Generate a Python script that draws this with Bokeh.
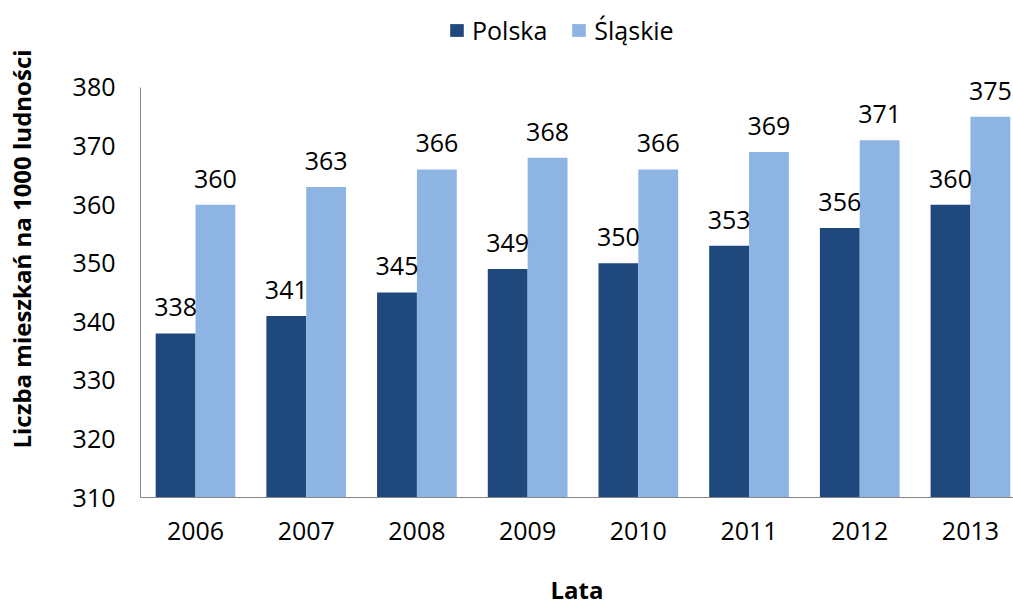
from bokeh.plotting import figure
from bokeh.models import ColumnDataSource, Range1d, FixedTicker, Legend, LegendItem
from bokeh.transform import dodge
from bokeh.core.properties import value
from bokeh.embed import file_html
from bokeh.resources import INLINE

years = ["2006", "2007", "2008", "2009", "2010", "2011", "2012", "2013"]
polska = [338, 341, 345, 349, 350, 353, 356, 360]
slaskie = [360, 363, 366, 368, 366, 369, 371, 375]
y_ticks = [310, 320, 330, 340, 350, 360, 370, 380]

FONT = "Open Sans"
DARK = "#1F497D"
LIGHT = "#8EB4E3"

idx = list(range(len(years)))
src = ColumnDataSource(dict(
    x=idx, polska=polska, slaskie=slaskie,
    pl_lab=[str(v) for v in polska], sl_lab=[str(v) for v in slaskie],
))

# frame spans the full height so the legend can sit inside it; the y axis
# line itself is bounded to 310..380
p = figure(width=1013, height=608, output_backend="svg", toolbar_location=None,
           x_range=Range1d(-0.497, 7.389), y_range=Range1d(310, 394.85),
           min_border_left=140, min_border_right=0, min_border_top=0,
           min_border_bottom=111)
p.outline_line_color = None
p.xgrid.grid_line_color = None
p.ygrid.grid_line_color = None

w = 0.36
r1 = p.vbar(x=dodge("x", -w / 2, range=p.x_range), top="polska", bottom=310,
            width=w, source=src, fill_color=DARK, line_color=None)
r2 = p.vbar(x=dodge("x", w / 2, range=p.x_range), top="slaskie", bottom=310,
            width=w, source=src, fill_color=LIGHT, line_color=None)

for col, lab, off in (("polska", "pl_lab", -w / 2), ("slaskie", "sl_lab", w / 2)):
    p.text(x=dodge("x", off, range=p.x_range), y=col, text=lab, source=src,
           text_align="center", text_baseline="bottom", y_offset=-17,
           text_font=value(FONT), text_font_size="25px", text_color="#000000")

for ax in (p.xaxis[0], p.yaxis[0]):
    ax.axis_line_color = "#868686"
    ax.axis_line_width = 1
    ax.major_tick_line_color = None
    ax.minor_tick_line_color = None
    ax.major_tick_in = 0
    ax.major_tick_out = 0
    ax.major_label_text_font = FONT
    ax.major_label_text_font_size = "25px"
    ax.major_label_text_color = "#000000"
    ax.axis_label_text_font = FONT
    ax.axis_label_text_font_style = "bold"
    ax.axis_label_text_color = "#000000"

p.xaxis.ticker = FixedTicker(ticks=idx)
p.xaxis.major_label_overrides = {i: y for i, y in zip(idx, years)}
p.xaxis.major_label_standoff = 24
p.xaxis.axis_label = "Lata"
p.xaxis.axis_label_text_font_size = "24px"
p.xaxis.axis_label_standoff = 30

p.yaxis.ticker = FixedTicker(ticks=y_ticks)
p.yaxis.bounds = (310, 380)
p.yaxis.major_label_standoff = 25
p.yaxis.axis_label = "Liczba mieszkań na 1000 ludności"
p.yaxis.axis_label_text_font_size = "24px"
p.yaxis.axis_label_standoff = 32

legend = Legend(items=[LegendItem(label="Polska", renderers=[r1]),
                       LegendItem(label="Śląskie", renderers=[r2])],
                orientation="horizontal", location=(308, 450),
                label_text_font=FONT, label_text_font_size="25px",
                label_text_color="#000000",
                glyph_width=17, glyph_height=16, label_height=16, spacing=23,
                label_standoff=7, border_line_color=None,
                background_fill_alpha=0, padding=0, margin=0)
p.add_layout(legend)

open("out.html", "w").write(file_html(p, INLINE))
